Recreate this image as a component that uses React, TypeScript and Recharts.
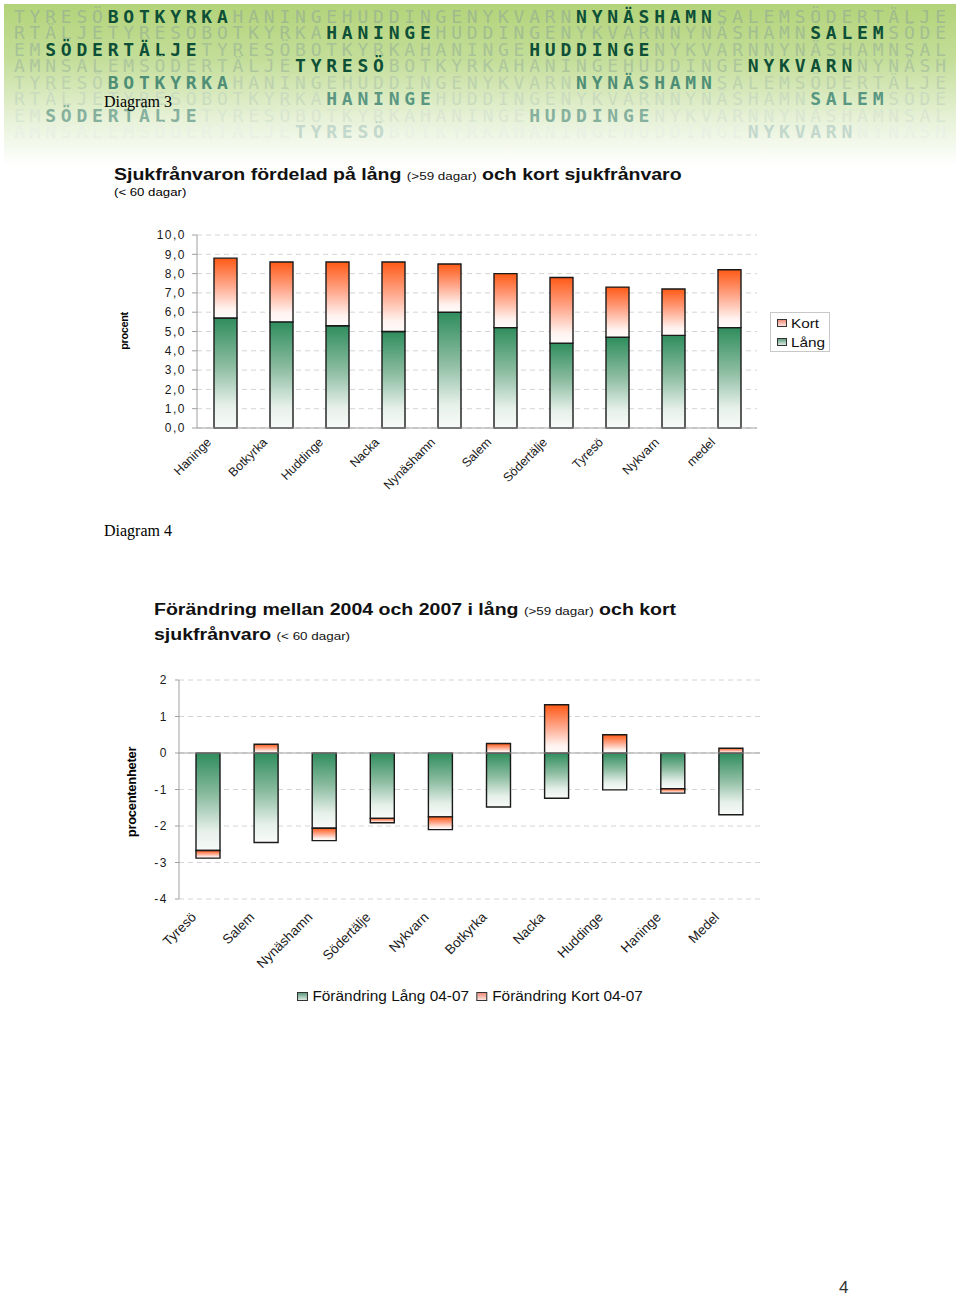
import React from "react"
import { BarChart, Bar, XAxis, YAxis, CartesianGrid, Legend, ReferenceLine } from "recharts"

// Diagram 3 - sjukfrånvaro per kommun (procent)
const kommuner3 = ["Haninge", "Botkyrka", "Huddinge", "Nacka", "Nynäshamn", "Salem", "Södertälje", "Tyresö", "Nykvarn", "medel"]
const lang3 = [5.7, 5.5, 5.3, 5.0, 6.0, 5.2, 4.4, 4.7, 4.8, 5.2]
const kort3 = [3.1, 3.1, 3.3, 3.6, 2.5, 2.8, 3.4, 2.6, 2.4, 3.0]
const ticks3 = [0, 1, 2, 3, 4, 5, 6, 7, 8, 9, 10]

// Diagram 4 - förändring 2004-2007 (procentenheter)
const kommuner4 = ["Tyresö", "Salem", "Nynäshamn", "Södertälje", "Nykvarn", "Botkyrka", "Nacka", "Huddinge", "Haninge", "Medel"]
const langChange = [-2.67, -2.45, -2.06, -1.79, -1.75, -1.48, -1.24, -1.01, -0.98, -1.69]
const kortChange = [-0.21, 0.24, -0.34, -0.12, -0.35, 0.26, 1.32, 0.5, -0.12, 0.13]
const ticks4 = [-4, -3, -2, -1, 0, 1, 2]

// banner rows: [text, highlighted]
const bannerRows: [string, boolean][][] = [
  [["TYRESÖ", false], ["BOTKYRKA", true], ["HANINGEHUDDINGENYKVARN", false], ["NYNÄSHAMN", true], ["SALEMSÖDERTÄLJE", false]],
  [["RTÄLJETYRESÖBOTKYRKA", false], ["HANINGE", true], ["HUDDINGENYKVARNNYNÄSHAMN", false], ["SALEM", true], ["SÖDE", false]],
  [["EM", false], ["SÖDERTÄLJE", true], ["TYRESÖBOTKYRKAHANINGE", false], ["HUDDINGE", true], ["NYKVARNNYNÄSHAMNSAL", false]],
  [["AMNSALEMSÖDERTÄLJE", false], ["TYRESÖ", true], ["BOTKYRKAHANINGEHUDDINGE", false], ["NYKVARN", true], ["NYNÄSH", false]],
]
const rowColors = [
  ["#9fbb8e", "#0d4f37"],
  ["#a2be91", "#0d4f37"],
  ["#a7c296", "#0d4f37"],
  ["#adc69d", "#0d4f37"],
  ["#bcd2ae", "#4e8e77"],
  ["#cadcc0", "#5a9782"],
  ["#d9e6d1", "#86b09e"],
  ["#e9f0e4", "#c3d8cc"],
]

const data3 = kommuner3.map((k, i) => ({ name: k, lang: lang3[i], kort: kort3[i] }))
const data4 = kommuner4.map((k, i) => ({ name: k, lang: langChange[i], kort: kortChange[i] }))

const SlantTick = (props: any) => {
  const { x, y, payload, dx, dy, size } = props
  const ax = x + dx
  const ay = y + dy
  return (
    <text x={ax} y={ay} transform={`rotate(-45 ${ax} ${ay})`} textAnchor="end" fontSize={size}
      fill="#1a1a1a" fontFamily="Liberation Sans">
      {payload.value}
    </text>
  )
}

const LegendBox = () => (
  <div style={{ border: "1px solid #c8c8c8", width: 58, height: 38, fontFamily: "Liberation Sans", fontSize: 13, color: "#111" }}>
    {[["Kort", "linear-gradient(#f08a78,#fde4de)"], ["Lång", "linear-gradient(#5e9c80,#dcebe2)"]].map(([t, bg]) => (
      <div key={t} style={{ display: "flex", alignItems: "center", height: 18, marginTop: 1, paddingLeft: 6 }}>
        <span style={{ width: 8, height: 6, border: "1px solid #333", background: bg, marginRight: 4 }} />
        <span style={{ display: "inline-block", transform: "scaleX(1.18)", transformOrigin: "left" }}>{t}</span>
      </div>
    ))}
  </div>
)

const LegendRow = () => (
  <div style={{ display: "flex", alignItems: "center", fontFamily: "Liberation Sans", fontSize: 14, color: "#111",
    transform: "scaleX(1.1)", transformOrigin: "left", whiteSpace: "nowrap" }}>
    <span style={{ width: 8, height: 7, border: "1px solid #333", background: "linear-gradient(#5e9c80,#dcebe2)", marginRight: 4 }} />
    <span style={{ marginRight: 7 }}>Förändring Lång 04-07</span>
    <span style={{ width: 8, height: 7, border: "1px solid #333", background: "linear-gradient(#f08a78,#fde4de)", marginRight: 4 }} />
    <span>Förändring Kort 04-07</span>
  </div>
)

const titleStyle: React.CSSProperties = {
  position: "absolute", fontFamily: "Liberation Sans", fontWeight: "bold", fontSize: 16, color: "#111",
  transform: "scaleX(1.22)", transformOrigin: "left", whiteSpace: "nowrap",
}
const small: React.CSSProperties = { fontWeight: "normal", fontSize: 11 }

export default function App() {
  return (
    <div style={{ position: "absolute", left: 0, top: 0, width: 960, height: 1297, background: "#fff", overflow: "hidden" }}>
      <svg width={0} height={0} style={{ position: "absolute" }}>
        <defs>
          <linearGradient id="gLang" x1="0" y1="0" x2="0" y2="1">
            <stop offset="0" stopColor="#2f8d5d" />
            <stop offset="0.45" stopColor="#8fbea3" />
            <stop offset="0.8" stopColor="#e6f0ea" />
            <stop offset="1" stopColor="#f8fbf9" />
          </linearGradient>
          <linearGradient id="gKort" x1="0" y1="0" x2="0" y2="1">
            <stop offset="0" stopColor="#ff5a16" />
            <stop offset="0.45" stopColor="#ffa68a" />
            <stop offset="0.85" stopColor="#fff3f0" />
            <stop offset="1" stopColor="#fffafa" />
          </linearGradient>
        </defs>
      </svg>

      {/* banner */}
      <svg width={960} height={170} style={{ position: "absolute", left: 0, top: 0 }}>
        <defs>
          <linearGradient id="banner" x1="0" y1="0" x2="0" y2="1">
            <stop offset="0" stopColor="#b3d379" />
            <stop offset="0.35" stopColor="#c4de9a" />
            <stop offset="0.7" stopColor="#e6f1d6" />
            <stop offset="1" stopColor="#ffffff" />
          </linearGradient>
        </defs>
        <rect x={4} y={4} width={952} height={162} fill="url(#banner)" />
        {[0, 1, 2, 3, 4, 5, 6, 7].map((r) => (
          <text key={r} x={14} y={22.5 + r * 16.5} textLength={932} lengthAdjust="spacing"
            fontFamily="DejaVu Sans Mono" fontSize={18}>
            {bannerRows[r % 4].map(([t, hi], j) => (
              <tspan key={j} fill={hi ? rowColors[r][1] : rowColors[r][0]} fontWeight={hi ? "bold" : "normal"}>{t}</tspan>
            ))}
          </text>
        ))}
      </svg>
      <div style={{ position: "absolute", left: 104, top: 93, fontFamily: "Liberation Serif", fontSize: 16 }}>Diagram 3</div>

      {/* Diagram 3 */}
      <div style={{ ...titleStyle, left: 114, top: 166 }}>
        Sjukfrånvaron fördelad på lång <span style={small}>(&gt;59 dagar)</span> och kort sjukfrånvaro
      </div>
      <div style={{ position: "absolute", left: 114, top: 186, fontFamily: "Liberation Sans", fontSize: 11,
        transform: "scaleX(1.2)", transformOrigin: "left" }}>(&lt; 60 dagar)</div>
      <div style={{ position: "absolute", left: 124, top: 331, transform: "translate(-50%,-50%) rotate(-90deg)",
        fontFamily: "Liberation Sans", fontWeight: "bold", fontSize: 11, letterSpacing: -0.4 }}>procent</div>
      <div style={{ position: "absolute", left: 100, top: 200 }}>
        <BarChart width={800} height={308} data={data3} margin={{ top: 35, right: 143, left: 0, bottom: 20 }} barSize={23}>
          <CartesianGrid vertical={false} stroke="#d4d4d4" strokeDasharray="5 4" />
          <XAxis dataKey="name" height={60} interval={0} stroke="#a0a0a0" tickLine={false} tickSize={0}
            tick={(p: any) => <SlantTick {...p} dx={-13} dy={13} size={12.5} />} />
          <YAxis width={97} domain={[0, 10]} ticks={ticks3} interval={0} stroke="#a0a0a0" tickSize={5} tickMargin={6}
            tick={{ fontSize: 12, fill: "#1a1a1a", letterSpacing: 1.5, fontFamily: "Liberation Sans" }}
            tickFormatter={(v: number) => v.toFixed(1).replace(".", ",")} />
          <Legend layout="horizontal" align="center" verticalAlign="middle" content={() => <LegendBox />}
            wrapperStyle={{ left: 670, top: 112, width: 62, height: 42 }} />
          <Bar dataKey="lang" name="Lång" stackId="a" fill="url(#gLang)" stroke="#1a1a1a" strokeWidth={1.4} isAnimationActive={false} />
          <Bar dataKey="kort" name="Kort" stackId="a" fill="url(#gKort)" stroke="#1a1a1a" strokeWidth={1.4} isAnimationActive={false} />
        </BarChart>
      </div>

      <div style={{ position: "absolute", left: 104, top: 522, fontFamily: "Liberation Serif", fontSize: 16 }}>Diagram 4</div>

      {/* Diagram 4 */}
      <div style={{ ...titleStyle, left: 154, top: 601 }}>
        Förändring mellan 2004 och 2007 i lång <span style={small}>(&gt;59 dagar)</span> och kort
      </div>
      <div style={{ ...titleStyle, left: 154, top: 626 }}>
        sjukfrånvaro <span style={small}>(&lt; 60 dagar)</span>
      </div>
      <div style={{ position: "absolute", left: 131, top: 792, transform: "translate(-50%,-50%) rotate(-90deg)",
        fontFamily: "Liberation Sans", fontWeight: "bold", fontSize: 13, letterSpacing: -0.3 }}>procentenheter</div>
      <div style={{ position: "absolute", left: 100, top: 650 }}>
        <BarChart width={700} height={360} data={data4} stackOffset="sign"
          margin={{ top: 30, right: 40, left: 0, bottom: 41 }} barSize={24}>
          <CartesianGrid vertical={false} stroke="#d4d4d4" strokeDasharray="5 4" />
          <XAxis dataKey="name" height={70} interval={0} axisLine={false} tickLine={false} tickSize={0}
            tick={(p: any) => <SlantTick {...p} dx={-11} dy={17} size={13.5} />} />
          <YAxis width={79} domain={[-4, 2]} ticks={ticks4} interval={0} stroke="#a0a0a0" tickSize={4} tickMargin={7}
            tick={{ fontSize: 12, fill: "#1a1a1a", letterSpacing: 1.5, fontFamily: "Liberation Sans" }} />
          <ReferenceLine y={0} stroke="#a0a0a0" />
          <Legend layout="horizontal" align="center" verticalAlign="middle" content={() => <LegendRow />}
            wrapperStyle={{ left: 197, top: 338, width: 400, height: 20 }} />
          <Bar dataKey="lang" name="Förändring Lång 04-07" stackId="b" fill="url(#gLang)" stroke="#1a1a1a" strokeWidth={1.4} isAnimationActive={false} />
          <Bar dataKey="kort" name="Förändring Kort 04-07" stackId="b" fill="url(#gKort)" stroke="#1a1a1a" strokeWidth={1.4} isAnimationActive={false} />
        </BarChart>
      </div>

      <div style={{ position: "absolute", left: 839, top: 1278, fontFamily: "Liberation Sans", fontSize: 17, color: "#333" }}>4</div>
    </div>
  )
}
